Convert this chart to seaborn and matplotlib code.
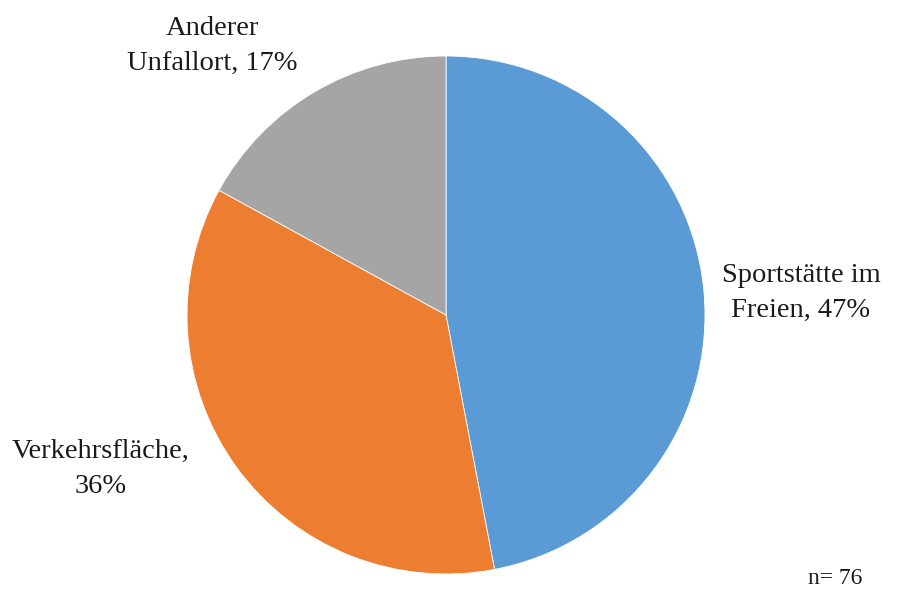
import matplotlib
matplotlib.use("Agg")
import matplotlib.pyplot as plt
import seaborn as sns

# Unfallorte (Anteile in %), n = 76
categories = ["Sportstätte im Freien", "Verkehrsfläche", "Anderer Unfallort"]
shares = [47, 36, 17]
label_texts = ["Sportstätte im\nFreien, 47%", "Verkehrsfläche,\n36%", "Anderer\nUnfallort, 17%"]
sample_note = "n= 76"

sns.set_theme(style="white")
plt.rcParams["font.family"] = ["Liberation Serif", "DejaVu Serif"]

colors = ["#5B9BD5", "#ED7D31", "#A5A5A5"]

W, H = 898, 590
fig = plt.figure(figsize=(W / 100, H / 100), dpi=100)
ax = fig.add_axes([0, 0, 1, 1])

ax.pie(shares, colors=colors, startangle=90, counterclock=False,
       center=(446, H - 315), radius=259,
       wedgeprops=dict(edgecolor="white", linewidth=0.6))

ax.set_xlim(0, W)
ax.set_ylim(0, H)
ax.set_aspect("equal")
ax.axis("off")

label_pos = [(801, H - 293), (101, H - 469), (212, H - 46)]
for txt, (x, y) in zip(label_texts, label_pos):
    ax.text(x, y, txt, ha="center", va="center", fontsize=20.5,
            color="#1a1a1a", linespacing=1.55)

ax.text(835, H - 579, sample_note, ha="center", va="center", fontsize=17,
        color="#1a1a1a")

fig.savefig("out.png", dpi=100, facecolor="white")
